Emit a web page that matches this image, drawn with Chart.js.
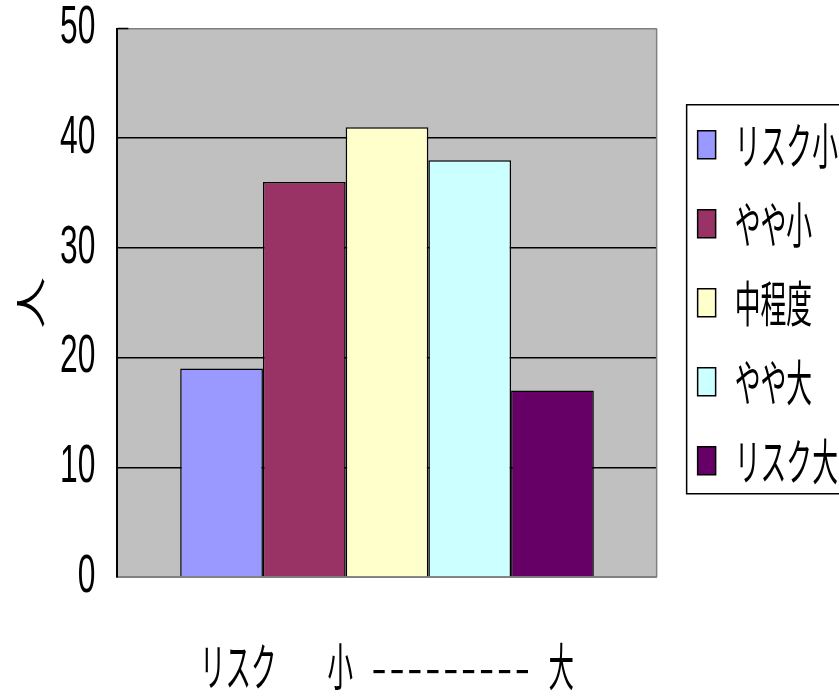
<!DOCTYPE html>
<html lang="ja">
<head>
<meta charset="UTF-8">
<title>リスク別人数</title>
<script src="https://cdn.jsdelivr.net/npm/chart.js"></script>
<style>
  html, body { margin: 0; padding: 0; background: #fff; }
  .chart-box { width: 839px; height: 696px; }
</style>
</head>
<body>
<div class="chart-box"><canvas id="chart"></canvas></div>
<script>
const categories = [''];
const seriesNames = ['リスク小', 'やや小', '中程度', 'やや大', 'リスク大'];
const seriesValues = [19, 36, 41, 38, 17];
const yTicks = [0, 10, 20, 30, 40, 50];
const yTitle = '人';
const xTitle = 'リスク　　小\u2002\u2005' + Array(9).fill('–').join('\u2006') + '\u2002\u2005大';

const colors = ['#9999FF', '#993366', '#FFFFCC', '#CCFFFF', '#660066'];
const jp = "'Noto Sans CJK JP', sans-serif";

// the original text is squeezed sideways; [scaleX, scaleY] by font size
const textShape = { 53: [0.6, 1], 52: [0.6, 1], 51: [0.5, 1], 38: [0.68, 1.3] };
function shapeOf(font) {
  const m = /([\d.]+)px/.exec(font);
  return (m && textShape[Math.round(m[1])]) || [1, 1];
}

const narrowText = {
  id: 'narrowText',
  beforeInit(chart) {
    const ctx = chart.ctx;
    const fill = ctx.fillText;
    const measure = ctx.measureText;
    ctx.measureText = function (text) {
      const m = measure.call(this, text);
      return { width: m.width * shapeOf(this.font)[0] };
    };
    ctx.fillText = function (text, x, y) {
      const [sx, sy] = shapeOf(this.font);
      const t = this.getTransform();
      const p = t.transformPoint(new DOMPoint(x, y));
      this.save();
      this.setTransform(sx, 0, 0, sy, p.x * (1 - sx), p.y * (1 - sy));
      this.transform(t.a, t.b, t.c, t.d, t.e, t.f);
      fill.call(this, text, x, y);
      this.restore();
    };
  }
};

const plotFrame = {
  id: 'plotFrame',
  beforeDraw(chart) {
    const { ctx, chartArea: a } = chart;
    ctx.save();
    ctx.fillStyle = '#C0C0C0';
    ctx.fillRect(a.left, a.top, a.right - a.left, a.bottom - a.top);
    ctx.restore();
  },
  beforeDatasetsDraw(chart) {
    const { ctx, chartArea: a } = chart;
    ctx.save();
    ctx.strokeStyle = '#808080';
    ctx.lineWidth = 1.5;
    ctx.beginPath();
    ctx.moveTo(a.right, a.top);
    ctx.lineTo(a.right, a.bottom);
    ctx.stroke();
    // short black tick at the top of the value axis
    ctx.strokeStyle = '#000';
    ctx.beginPath();
    ctx.moveTo(a.left, a.top);
    ctx.lineTo(a.left + 11, a.top);
    ctx.stroke();
    ctx.restore();
  },
  afterDraw(chart) {
    // frame round the legend
    const hb = chart.legend.legendHitBoxes;
    if (!hb.length) return;
    const first = hb[0], last = hb[hb.length - 1];
    const ctx = chart.ctx;
    ctx.save();
    ctx.strokeStyle = '#000';
    ctx.lineWidth = 1.5;
    const top = first.top + first.height / 2 - 40;
    const bottom = last.top + last.height / 2 + 33;
    ctx.strokeRect(first.left - 11, top, 200, bottom - top);
    ctx.restore();
  }
};

new Chart(document.getElementById('chart'), {
  type: 'bar',
  data: {
    labels: categories,
    datasets: seriesNames.map((name, i) => ({
      label: name,
      data: [seriesValues[i]],
      backgroundColor: colors[i],
      borderColor: '#000',
      borderWidth: 1.5,
      categoryPercentage: 0.767,
      barPercentage: 1
    }))
  },
  options: {
    responsive: true,
    maintainAspectRatio: false,
    animation: false,
    layout: { padding: { top: 28.5, right: -9, bottom: 4, left: 0 } },
    plugins: {
      legend: {
        position: 'right',
        fullSize: false,
        labels: {
          color: '#000',
          font: { family: jp, size: 38 },
          boxWidth: 18,
          boxHeight: 28,
          padding: 41
        }
      },
      tooltip: { enabled: false }
    },
    scales: {
      x: {
        grid: { display: false, drawTicks: false },
        border: { color: '#808080', width: 2 },
        ticks: { display: false },
        title: {
          display: true,
          text: xTitle,
          color: '#000',
          font: { family: jp, size: 51, lineHeight: 1 },
          padding: { top: 64, bottom: 0 }
        }
      },
      y: {
        min: 0,
        max: 50,
        afterBuildTicks: (scale) => { scale.ticks = yTicks.map(v => ({ value: v })); },
        afterFit: (scale) => { scale.paddingTop = 0; scale.paddingBottom = 0; },
        grid: {
          drawTicks: false,
          lineWidth: 1.5,
          color: (c) => c.tick.value === 50 ? '#808080' : (c.tick.value === 0 ? 'rgba(0,0,0,0)' : '#000')
        },
        border: { color: '#000', width: 2 },
        ticks: {
          color: '#000',
          padding: 22,
          font: { family: "'Liberation Sans', sans-serif", size: 53, lineHeight: 1 }
        },
        title: {
          display: true,
          text: yTitle,
          color: '#000',
          font: { family: jp, size: 52, lineHeight: 1 },
          padding: { top: 4, bottom: -18 }
        }
      }
    }
  },
  plugins: [narrowText, plotFrame]
});
</script>
</body>
</html>
